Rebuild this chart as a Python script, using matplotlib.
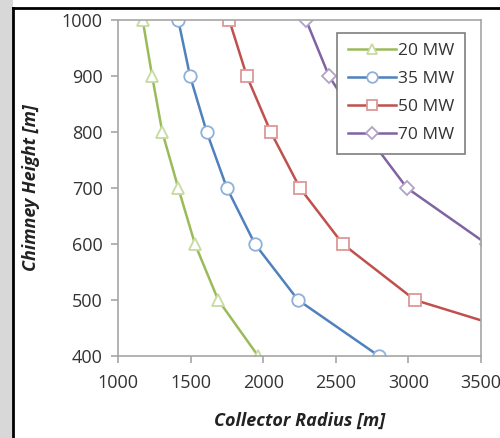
import matplotlib
matplotlib.use("Agg")
import matplotlib.pyplot as plt
from matplotlib.patches import Rectangle
from matplotlib.lines import Line2D

plt.rcParams['font.family'] = ['Open Sans', 'DejaVu Sans']

heights = [1000, 900, 800, 700, 600, 500, 400]
r20 = [1170, 1235, 1305, 1415, 1530, 1690, 1965]
r35 = [1415, 1496, 1611, 1750, 1943, 2240, 2797]
r50 = [1766, 1887, 2052, 2253, 2548, 3045, 4300]
r70 = [2295, 2453, 2700, 2990, 3540, 4300, 5400]

series = [
    ("20 MW", r20, "#9BBB59", "#c6dba0", "^"),
    ("35 MW", r35, "#4F81BD", "#8fb0d8", "o"),
    ("50 MW", r50, "#C0504D", "#dc9896", "s"),
    ("70 MW", r70, "#8064A2", "#b3a2c8", "D"),
]

fig = plt.figure(figsize=(5, 4.38), dpi=100)
fig.patch.set_facecolor("white")

# grey strip + black frame lines from the screenshot
fig.add_artist(Rectangle((0, 0), 13/500, 1, transform=fig.transFigure,
                         facecolor="#d8d8d8", edgecolor="none"))
fig.add_artist(Line2D([13/500, 13/500], [0, 1 - 8/438], transform=fig.transFigure,
                      color="black", lw=2))
fig.add_artist(Line2D([13/500, 1], [1 - 8/438, 1 - 8/438], transform=fig.transFigure,
                      color="black", lw=2))

ax = fig.add_axes([118/500, 1 - 356/438, (481 - 118)/500, (356 - 20)/438])

for label, xs, col, edge, mk in series:
    ms = 9 if mk != "D" else 7
    ax.plot(xs, heights, color=col, lw=1.8, marker=mk, ms=ms,
            markerfacecolor="white", markeredgecolor=edge, markeredgewidth=1.3,
            label=label, clip_on=True)

ax.set_xlim(1000, 3500)
ax.set_ylim(400, 1000)
ax.set_xticks([1000, 1500, 2000, 2500, 3000, 3500])
ax.set_yticks([400, 500, 600, 700, 800, 900, 1000])

for s in ax.spines.values():
    s.set_color("#a6a6a6")
    s.set_linewidth(1.2)

ax.tick_params(axis="both", colors="#a6a6a6", labelcolor="#333333",
               labelsize=13, length=5, width=1.2)
ax.tick_params(axis="x", pad=8)
ax.tick_params(axis="y", pad=6)

ax.set_xlabel("Collector Radius [m]", fontsize=13, fontweight="bold",
              fontstyle="italic", color="#222222", labelpad=14)
ax.set_ylabel("Chimney Height [m]", fontsize=13, fontweight="bold",
              fontstyle="italic", color="#222222", labelpad=16)

leg = ax.legend(loc="upper right", bbox_to_anchor=(0.955, 0.962), fontsize=12.5,
                frameon=True, fancybox=False, handlelength=2.8, handletextpad=0.1,
                borderpad=0.6, labelspacing=0.68, borderaxespad=0, framealpha=1,
                markerscale=0.85)
leg.get_frame().set_edgecolor("#7f7f7f")
leg.get_frame().set_linewidth(1.2)
for t in leg.get_texts():
    t.set_color("#333333")

fig.savefig("out.png", dpi=100)
